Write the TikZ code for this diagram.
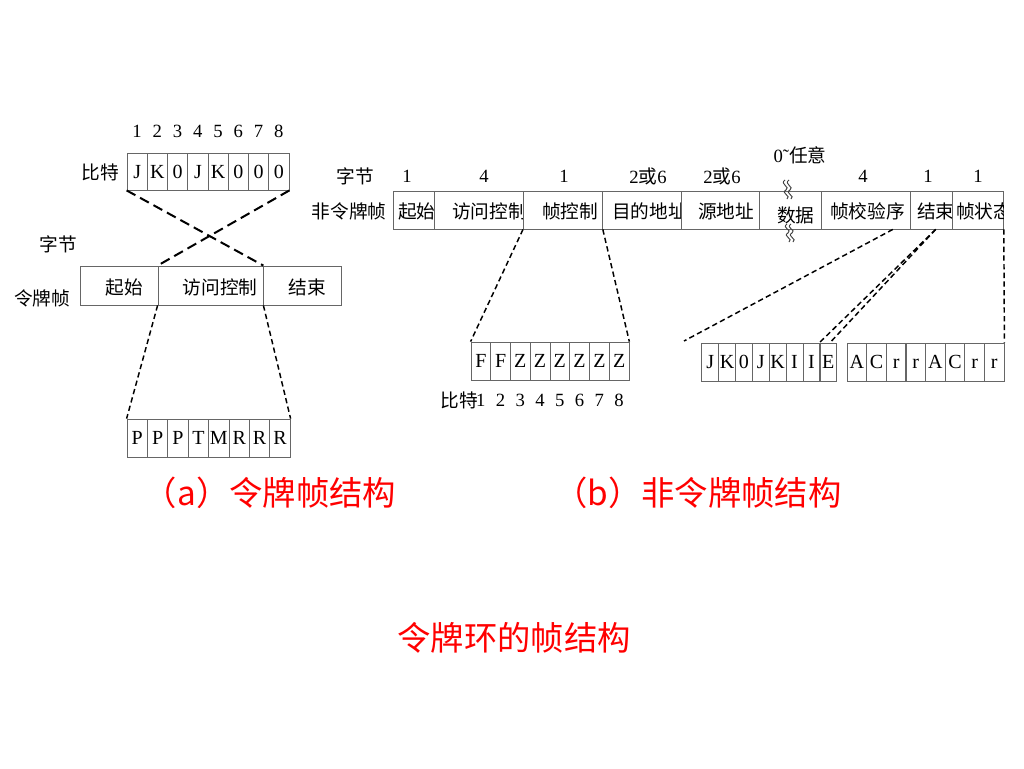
\documentclass[tikz,border=0pt]{standalone}
\usepackage{fontspec}
\setmainfont{Liberation Serif}
\newfontfamily\cjk{Noto Sans CJK SC}
\usepackage{tikz}
\usetikzlibrary{calc}

\begin{document}
\begin{tikzpicture}[
    x=0.75pt, y=-0.75pt,
    cell/.style={rectangle, draw=black!60, line width=0.6pt, inner sep=0pt, minimum height=28.5pt,
        text height=10pt, text depth=0pt, font=\fontsize{15}{17}\selectfont},
    txt/.style={inner sep=0pt, font=\cjk\fontsize{14}{16}\selectfont},
    num/.style={inner sep=0pt, font=\fontsize{14}{16}\selectfont},
    cross/.style={dash pattern=on 7.5pt off 4pt, line width=1.5pt},
    link/.style={dash pattern=on 4pt off 2.5pt, line width=1.1pt},
    wave/.style={black!75, line width=0.7pt},
    caption/.style={text=red, inner sep=0pt, font=\cjk\fontsize{25}{30}\selectfont}
]
\useasboundingbox (0,0) rectangle (1024,768);

% (a) Token frame: bits
\node[txt] (abitlbl) at (100,172) {比特};
\foreach \t [count=\i] in {J,K,0,J,K,0,0,0} {
    \node[cell, minimum width=15.2pt, minimum height=27.75pt] (abit\i) at (116.9+20.25*\i,171.5) {\t};
    \node[num] (anum\i) at (116.9+20.25*\i,131) {\i};
}

% (a) Token frame: bytes
\node[txt] (abytelbl) at (58,244) {字节};
\node[txt] (aframelbl) at (42,298) {令牌帧};
\node[cell, minimum width=58.5pt, minimum height=29.25pt] (astart) at (119,285.5) {};
\node[cell, minimum width=78.75pt, minimum height=29.25pt] (aac) at (210.5,285.5) {};
\node[cell, minimum width=58.5pt, minimum height=29.25pt] (aend) at (302,285.5) {};
\node[txt] (astarttxt) at (124.5,287) {起始};
\node[txt] (aactxt) at (220,287) {访问控制};
\node[txt] (aendtxt) at (307.5,287) {结束};

% (a) Access control bits
\foreach \t [count=\i] in {P,P,P,T,M,R,R,R}
    \node[cell, minimum width=15.3pt] (pbit\i) at (116.8+20.4*\i,438) {\t};

% (a) Links
\draw[cross] (abit1.south west) -- (aac.north east);
\draw[cross] (abit8.south east) -- (aac.north west);
\draw[link] (aac.south west) -- (pbit1.north west);
\draw[link] (aac.south east) -- (pbit8.north east);

% (b) Non-token frame: bytes
\node[txt] (bbytelbl) at (355,176) {字节};
\node[txt] (bframelbl) at (349,211) {非令牌帧};
\foreach \n/\l/\r/\tx/\ty/\t in {bstart/393/434/398/211/起始, bac/434/523/452/211/访问控制,
        bfc/523/602/542/211/帧控制, bdst/602/681/612/211/目的地址, bsrc/681/759/698/211/源地址,
        bdata/759/821/777/215/数据, bfcs/821/910/830/211/帧校验序, bend/910/952/917/211/结束,
        bfs/952/1003/956/211/帧状态} {
    \pgfmathsetmacro\cw{(\r-\l)*0.75}
    \node[cell, minimum width=\cw pt, anchor=west] (\n) at (\l,210) {};
    \begin{scope}
        \clip (\n.north west) rectangle (\n.south east);
        \node[txt, anchor=west] (\n txt) at (\tx,\ty) {\t};
    \end{scope}
}
\foreach \x/\t [count=\i] in {407/1, 484/4, 564/1, 648/2{\cjk 或}6, 722/2{\cjk 或}6, 863/4, 928/1, 978/1}
    \node[num] (bcnt\i) at (\x,176) {\t};
\node[num] (bany) at (800,155) {0\char"02DC{\cjk 任意}};

% (b) Breaks in the data field
\foreach \d in {0,4} {
    \draw[wave] (785+\d,180) .. controls (779+\d,184) and (791+\d,187) .. (786+\d,190) .. controls (780+\d,193) and (792+\d,196) .. (787+\d,199);
    \draw[wave] (787+\d,224) .. controls (781+\d,228) and (793+\d,230) .. (788+\d,233) .. controls (782+\d,236) and (794+\d,239) .. (789+\d,242);
}

% (b) Frame control bits
\node[txt] (fbitlbl) at (459,400) {比特};
\foreach \t [count=\i] in {F,F,Z,Z,Z,Z,Z,Z} {
    \node[cell, minimum width=14.8pt] (fbit\i) at (461.1+19.75*\i,361) {\t};
    \node[num] (fnum\i) at (461.1+19.75*\i,400) {\i};
}

% (b) Ending delimiter bits
\foreach \t [count=\i] in {J,K,0,J,K,I,I,E}
    \node[cell, minimum width=12.6pt] (ebit\i) at (693.3+16.875*\i,362) {\t};

% (b) Frame status bits
\foreach \t [count=\i] in {A,C,r,r,A,C,r,r}
    \node[cell, minimum width=14.7pt] (sbit\i) at (837.2+19.625*\i,362) {\t};

% (b) Links
\coordinate (fcsend) at (684,341);
\draw[link] (bfc.south west) -- (fbit1.north west);
\draw[link] (bfc.south east) -- (fbit8.north east);
\draw[link] ($(bfcs.south west)!0.8!(bfcs.south east)$) -- (fcsend);
\draw[link] ($(bend.south west)!0.6!(bend.south east)$) -- (ebit8.north west);
\draw[link] ($(bend.south west)!0.6!(bend.south east)$) -- ($(ebit8.north west)!0.6!(ebit8.north east)$);
\draw[link] (bfs.south east) -- (sbit8.north east);

% Captions
\node[caption] (capa) at (270,493) {（a）令牌帧结构};
\node[caption] (capb) at (698,493) {（b）非令牌帧结构};
\node[caption] (title) at (514,638) {令牌环的帧结构};

\end{tikzpicture}
\end{document}
